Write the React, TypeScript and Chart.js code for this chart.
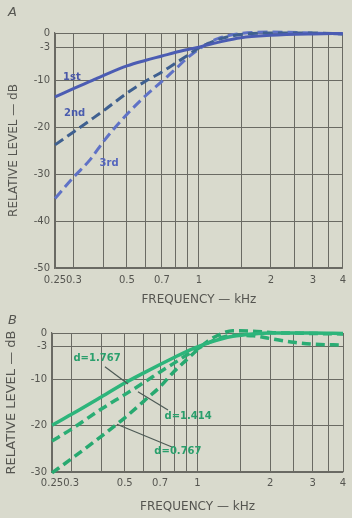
import React, { useEffect, useRef } from "react";
import { Chart, registerables } from "chart.js";
Chart.register(...registerables);

// ---------- Chart A data ----------
const freqA = [0.25, 0.3, 0.35, 0.4, 0.5, 0.6, 0.7, 0.8, 0.9, 1, 1.2, 1.5, 2, 3, 4];
const firstOrder = [-13.6, -11.8, -10.3, -9.0, -7.0, -5.8, -4.9, -4.1, -3.5, -3.0, -2.0, -1.0, -0.5, -0.2, -0.1];
const secondOrder = [-23.8, -21.0, -18.6, -16.5, -12.8, -10.2, -8.3, -6.4, -4.7, -3.2, -1.4, -0.3, 0, 0, -0.2];
const thirdOrder = [-35.2, -30.6, -27.0, -23.0, -17.3, -13.3, -10.3, -7.6, -5.2, -3.4, -1.2, -0.1, 0.2, 0, -0.2];
const yTicksA = [0, -3, -10, -20, -30, -40, -50];
const curveLabelsA = ["1st", "2nd", "3rd"];
const curveLabelFreqA = [0.294, 0.302, 0.421];
const curveLabelDbA = [-9.4, -17.2, -27.7];

// ---------- Chart B data ----------
const freqB = [0.25, 0.3, 0.4, 0.5, 0.6, 0.7, 0.8, 0.9, 1, 1.1, 1.25, 1.4, 1.7, 2, 2.5, 3, 4];
const solidB = [-19.9, -17.6, -13.8, -10.8, -8.6, -6.8, -5.3, -4.0, -3.0, -2.2, -1.3, -0.7, -0.2, 0, 0, 0, -0.1];
const dashedMidB = [-23.3, -20.8, -16.4, -13.3, -10.7, -8.4, -6.5, -4.8, -3.4, -2.2, -1.0, -0.5, -0.6, -1.2, -2.0, -2.4, -2.6];
const dashedLowB = [-30.2, -27.2, -22.3, -18.3, -14.7, -11.6, -8.3, -5.8, -3.6, -1.8, -0.2, 0.5, 0.4, 0.1, 0, -0.1, -0.2];
const yTicksB = [0, -3, -10, -20, -30];
const curveLabelsB = ["d=1.767", "d=1.414", "d=0.767"];
const curveLabelFreqB = [0.384, 0.914, 0.83];
const curveLabelDbB = [-5.4, -17.9, -25.5];
const leaderFromFreqB = [0.414, 0.755, 0.784];
const leaderFromDbB = [-7.3, -16.6, -24.6];
const leaderToFreqB = [0.516, 0.567, 0.464];
const leaderToDbB = [-11.0, -12.7, -19.7];

// ---------- shared ----------
const xGrid = [0.25, 0.3, 0.4, 0.5, 0.6, 0.7, 0.8, 0.9, 1, 1.5, 2, 2.5, 3, 3.5, 4];
const xLabelValues = [0.25, 0.3, 0.5, 0.7, 1, 2, 3, 4];
const xLabelTexts = ["0.25", "0.3", "0.5", "0.7", "1", "2", "3", "4"];

const PAPER = "#d9dacd";
const GRID = "#6a6a63";
const TEXT = "#555550";
const FONT = "'DejaVu Sans', sans-serif";

function makeAnnoPlugin(texts: string[], fx: number[], fy: number[], colors: string[],
  lf?: number[], ld?: number[], lt?: number[], ltd?: number[]) {
  return {
    id: "anno",
    afterDatasetsDraw(chart: any) {
      const { ctx, scales } = chart;
      const x = scales.x, y = scales.y;
      ctx.save();
      if (lf && ld && lt && ltd) {
        ctx.strokeStyle = "#4d5a55";
        ctx.lineWidth = 1.2;
        for (let i = 0; i < lf.length; i++) {
          ctx.beginPath();
          ctx.moveTo(x.getPixelForValue(lf[i]), y.getPixelForValue(ld[i]));
          ctx.lineTo(x.getPixelForValue(lt[i]), y.getPixelForValue(ltd[i]));
          ctx.stroke();
        }
      }
      ctx.font = `bold 10px ${FONT}`;
      ctx.textAlign = "center";
      ctx.textBaseline = "middle";
      for (let i = 0; i < texts.length; i++) {
        ctx.fillStyle = colors[i];
        ctx.fillText(texts[i], x.getPixelForValue(fx[i]), y.getPixelForValue(fy[i]));
      }
      ctx.restore();
    },
  };
}

function buildOptions(cfg: {
  yMin: number; yTicks: number[]; yWidth: number; xHeight: number;
  padTop: number; padRight: number; tickPadX: number; titlePadX: number; titlePadY: number; yTitleSize: number;
}) {
  return {
    responsive: false,
    animation: false,
    layout: { padding: { left: 0, right: cfg.padRight, top: cfg.padTop, bottom: 0 } },
    plugins: { legend: { display: false }, tooltip: { enabled: false } },
    scales: {
      x: {
        type: "logarithmic",
        min: 0.25,
        max: 4,
        afterBuildTicks: (s: any) => { s.ticks = xGrid.map((v) => ({ value: v })); },
        afterFit: (s: any) => { s.height = cfg.xHeight; },
        grid: { color: GRID, lineWidth: 1, drawTicks: false },
        border: { color: GRID, width: 1.2 },
        ticks: {
          autoSkip: false, maxRotation: 0, minRotation: 0, padding: cfg.tickPadX,
          color: TEXT, font: { family: FONT, size: 10 },
          callback: (v: number) => {
            const i = xLabelValues.findIndex((t) => Math.abs(t - v) < 1e-6);
            return i >= 0 ? xLabelTexts[i] : "";
          },
        },
        title: {
          display: true, text: "FREQUENCY — kHz", color: TEXT,
          font: { family: FONT, size: 12 }, padding: { top: 0, bottom: cfg.titlePadX },
        },
      },
      y: {
        type: "linear",
        min: cfg.yMin,
        max: 0,
        afterBuildTicks: (s: any) => { s.ticks = cfg.yTicks.map((v) => ({ value: v })); },
        afterFit: (s: any) => { s.width = cfg.yWidth; },
        grid: { color: GRID, lineWidth: 1, drawTicks: false },
        border: { color: GRID, width: 1.2 },
        ticks: {
          padding: 5, color: TEXT, font: { family: FONT, size: 10 },
          callback: (v: number) => String(v),
        },
        title: {
          display: true, text: "RELATIVE LEVEL — dB", color: TEXT,
          font: { family: FONT, size: cfg.yTitleSize }, padding: { top: cfg.titlePadY, bottom: 0 },
        },
      },
    },
  } as any;
}

function toPts(xs: number[], ys: number[]) {
  return xs.map((x, i) => ({ x, y: ys[i] }));
}

const lineBase = { pointRadius: 0, cubicInterpolationMode: "monotone" };

function ChartA() {
  const ref = useRef<HTMLCanvasElement>(null);
  useEffect(() => {
    const chart = new Chart(ref.current!, {
      type: "line",
      data: {
        datasets: [
          { ...lineBase, data: toPts(freqA, firstOrder), borderColor: "#4b5cb3", borderWidth: 3, clip: 4 },
          { ...lineBase, data: toPts(freqA, secondOrder), borderColor: "#3f6090", borderWidth: 3, borderDash: [10, 5], clip: 4 },
          { ...lineBase, data: toPts(freqA, thirdOrder), borderColor: "#5f72c6", borderWidth: 3, borderDash: [10, 5], clip: 4 },
        ],
      } as any,
      options: buildOptions({ yMin: -50, yTicks: yTicksA, yWidth: 55, xHeight: 42, padTop: 33, padRight: 6, tickPadX: 6, titlePadX: 3, titlePadY: 7, yTitleSize: 12 }),
      plugins: [makeAnnoPlugin(curveLabelsA, curveLabelFreqA, curveLabelDbA, ["#4a58a8", "#4a5cae", "#5566bd"])],
    });
    return () => chart.destroy();
  }, []);
  return <canvas ref={ref} width={352} height={310} style={{ position: "absolute", left: 0, top: 0 }} />;
}

function ChartB() {
  const ref = useRef<HTMLCanvasElement>(null);
  useEffect(() => {
    const chart = new Chart(ref.current!, {
      type: "line",
      data: {
        datasets: [
          { ...lineBase, data: toPts(freqB, solidB), borderColor: "#2db57b", borderWidth: 3.5, clip: 6 },
          { ...lineBase, data: toPts(freqB, dashedMidB), borderColor: "#2aad74", borderWidth: 3.5, borderDash: [9, 5], clip: 6 },
          { ...lineBase, data: toPts(freqB, dashedLowB), borderColor: "#27a970", borderWidth: 3.5, borderDash: [9, 5], clip: 6 },
        ],
      } as any,
      options: buildOptions({ yMin: -30, yTicks: yTicksB, yWidth: 52, xHeight: 46, padTop: 28, padRight: 9, tickPadX: 5, titlePadX: 4, titlePadY: 4, yTitleSize: 13 }),
      plugins: [makeAnnoPlugin(curveLabelsB, curveLabelFreqB, curveLabelDbB, ["#2a9f6c", "#2a9f6c", "#2a9f6c"],
        leaderFromFreqB, leaderFromDbB, leaderToFreqB, leaderToDbB)],
    });
    return () => chart.destroy();
  }, []);
  return <canvas ref={ref} width={352} height={213} style={{ position: "absolute", left: 0, top: 305 }} />;
}

export default function App() {
  return (
    <div style={{ position: "fixed", left: 0, top: 0, width: 352, height: 518, background: PAPER, overflow: "hidden" }}>
      <ChartA />
      <ChartB />
      <div style={{ position: "absolute", left: 8, top: 4, fontFamily: FONT, fontStyle: "italic", fontSize: 13, color: TEXT }}>A</div>
      <div style={{ position: "absolute", left: 8, top: 312, fontFamily: FONT, fontStyle: "italic", fontSize: 13, color: TEXT }}>B</div>
    </div>
  );
}
